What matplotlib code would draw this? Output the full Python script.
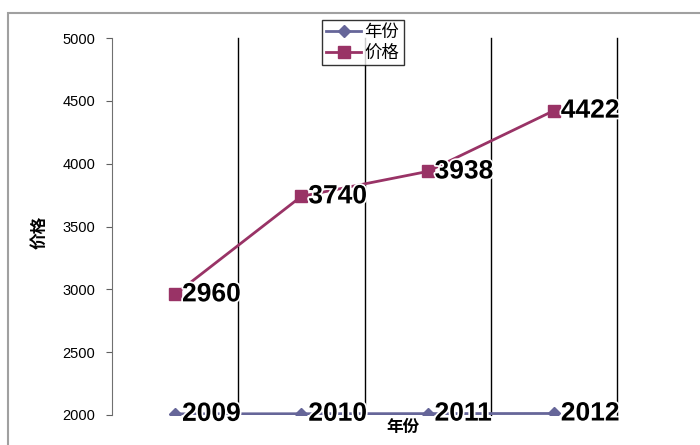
import matplotlib
matplotlib.use("Agg")
import matplotlib.pyplot as plt
import matplotlib.patheffects as pe
from matplotlib.patches import Rectangle

plt.rcParams["font.family"] = ["Liberation Sans", "Noto Sans CJK SC", "DejaVu Sans"]

# data
years = [2009, 2010, 2011, 2012]
year_labels = ["2009", "2010", "2011", "2012"]
prices = [2960, 3740, 3938, 4422]
yticks = [2000, 2500, 3000, 3500, 4000, 4500, 5000]

YEAR_COLOR = "#666699"
PRICE_COLOR = "#993366"

fig = plt.figure(figsize=(7.0, 4.45), dpi=100)
fig.patch.set_facecolor("white")

# outer chart frame (runs off the right/bottom edge like the original)
frame = Rectangle((8 / 700, -0.2), 1.2, 1 - 13 / 445 + 0.2, transform=fig.transFigure,
                  fill=False, edgecolor="#a0a0a0", linewidth=1.5)
fig.patches.append(frame)

ax = fig.add_axes([112 / 700, 30 / 445, (617 - 112) / 700, (415 - 38) / 445])
x = list(range(len(years)))

ax.plot(x, years, color=YEAR_COLOR, linewidth=2, marker="D", markersize=6,
        label="年份", zorder=3)
ax.plot(x, prices, color=PRICE_COLOR, linewidth=2, marker="s", markersize=8,
        label="价格", zorder=3)

halo = [pe.withStroke(linewidth=2.5, foreground="white")]
for xi, v, lab in zip(x, years, year_labels):
    ax.annotate(lab, (xi, v), xytext=(5, 0), textcoords="offset points",
                ha="left", va="center", fontsize=19, fontweight="bold",
                color="black", path_effects=halo, zorder=5)
for xi, v in zip(x, prices):
    ax.annotate(str(v), (xi, v), xytext=(5, 0), textcoords="offset points",
                ha="left", va="center", fontsize=19, fontweight="bold",
                color="black", path_effects=halo, zorder=5)

for b in [0.5, 1.5, 2.5, 3.5]:
    ax.axvline(b, color="black", linewidth=1, zorder=1, clip_on=False)

ax.set_xlim(-0.5, 3.5)
ax.set_ylim(2000, 5000)
ax.set_yticks(yticks)
ax.set_yticklabels([str(t) for t in yticks])
ax.set_xticks([])
ax.tick_params(axis="y", length=4, width=0.8, color="#606060", pad=8, labelsize=10.5)
for s in ["top", "right", "bottom"]:
    ax.spines[s].set_visible(False)
ax.spines["left"].set_color("#707070")
ax.spines["left"].set_linewidth(0.8)

fig.text(40 / 700, 1 - 232 / 445, "价格", rotation=90, ha="center", va="center",
         fontsize=12, fontweight="bold")
fig.text(403 / 700, 1 - 427 / 445, "年份", ha="center", va="center",
         fontsize=12, fontweight="bold")

leg = fig.legend(loc="upper left", bbox_to_anchor=(322 / 700, 1 - 20 / 445),
                 fontsize=12.5, frameon=True, fancybox=False, handlelength=2.0,
                 borderpad=0.25, labelspacing=0.25, handletextpad=0.2,
                 borderaxespad=0, markerscale=1.1)
leg.get_frame().set_edgecolor("black")
leg.get_frame().set_linewidth(1)

fig.savefig("out.png", dpi=100)
